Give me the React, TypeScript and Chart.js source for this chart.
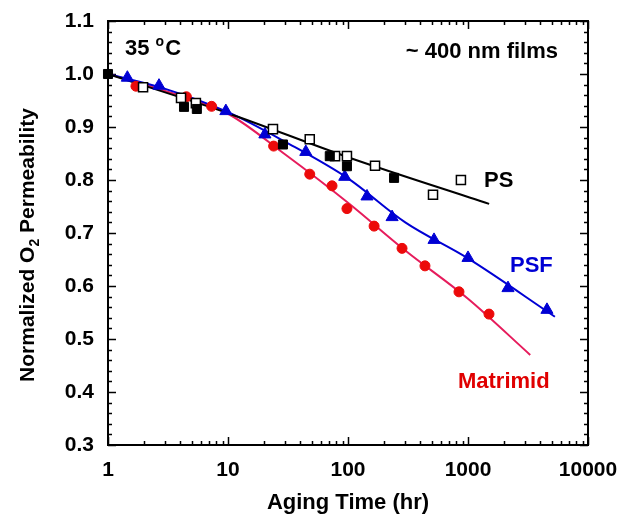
import React, { useEffect, useRef } from 'react';
import { Chart, registerables } from 'chart.js';

Chart.register(...registerables);

// ---- data ----
const xTickValues = [1, 10, 100, 1000, 10000];
const yMin = 0.3;
const yMax = 1.1;

const psOpenX = [1.96, 4.06, 5.4, 23.7, 48, 78, 98, 168, 511, 873];
const psOpenY = [0.975, 0.955, 0.945, 0.896, 0.877, 0.845, 0.845, 0.827, 0.772, 0.8];

const psFilledX = [1, 4.3, 5.5, 28.7, 70.5, 98, 242];
const psFilledY = [1.0, 0.938, 0.934, 0.867, 0.845, 0.826, 0.804];

const psfX = [1.45, 2.66, 9.6, 20.3, 44.5, 94, 144, 233, 521, 1000, 2154, 4550];
const psfY = [0.993, 0.978, 0.93, 0.886, 0.853, 0.806, 0.769, 0.73, 0.687, 0.653, 0.596, 0.555];

const matX = [1.71, 4.5, 7.3, 24, 48, 73.6, 98, 165, 282, 438, 841, 1496];
const matY = [0.977, 0.957, 0.939, 0.864, 0.811, 0.789, 0.746, 0.713, 0.671, 0.638, 0.589, 0.547];

const psFitX = [1, 10, 100, 1500];
const psFitY = [1.0, 0.926, 0.843, 0.755];

const psfFitX = [1, 3, 10, 30, 100, 300, 1000, 5300];
const psfFitY = [1.0, 0.972, 0.928, 0.872, 0.803, 0.72, 0.652, 0.542];

const matFitX = [1, 3, 10, 30, 100, 300, 1000, 3300];
const matFitY = [1.0, 0.968, 0.925, 0.848, 0.757, 0.667, 0.576, 0.47];

const FONT = 'Arial, "Liberation Sans", Helvetica, sans-serif';
const BLUE = '#0000d4';
const RED = '#ec0a0a';
const RED_LINE = '#e61c5c';

// annotation labels anchored in data space
const notes = [
  { text: '~ 400 nm films', x: 5623, y: 1.031, align: 'right', color: '#000' },
  { text: 'PS', x: 1359, y: 0.786, align: 'left', color: '#000' },
  { text: 'PSF', x: 2239, y: 0.626, align: 'left', color: BLUE },
  { text: 'Matrimid', x: 825, y: 0.4075, align: 'left', color: '#e00000' },
];
const tempNote = { x: 1.386, y: 1.036 };

const toPts = (xs: number[], ys: number[]) => xs.map((x, i) => ({ x, y: ys[i] }));

const zeroPadding = (scale: any) => {
  scale.paddingTop = 0;
  scale.paddingBottom = 0;
  scale.paddingLeft = 0;
  scale.paddingRight = 0;
};

export default function App() {
  const ref = useRef<HTMLCanvasElement>(null);

  useEffect(() => {
    const canvas = ref.current;
    if (!canvas) return;

    const framePlugin = {
      id: 'frameTicks',
      beforeDatasetsDraw(chart: any) {
        const { ctx, chartArea: a, scales } = chart;
        const xs = scales.x;
        const ys = scales.y;
        ctx.save();
        ctx.strokeStyle = '#000';
        ctx.lineWidth = 2;
        ctx.strokeRect(a.left, a.top, a.right - a.left, a.bottom - a.top);
        ctx.lineWidth = 1.5;
        ctx.beginPath();
        // y ticks: major every 0.1, minor every 0.02
        for (let i = 0; i <= Math.round((yMax - yMin) / 0.02); i++) {
          const v = yMin + i * 0.02;
          const py = Math.round(ys.getPixelForValue(v)) + 0.5;
          const len = i % 5 === 0 ? 8 : 4;
          ctx.moveTo(a.left, py);
          ctx.lineTo(a.left + len, py);
          ctx.moveTo(a.right, py);
          ctx.lineTo(a.right - len, py);
        }
        // x ticks: decades major, 2..9 minor
        for (let d = 0; d < xTickValues.length; d++) {
          const base = xTickValues[d];
          const kmax = d === xTickValues.length - 1 ? 1 : 9;
          for (let k = 1; k <= kmax; k++) {
            const px = Math.round(xs.getPixelForValue(base * k)) + 0.5;
            const len = k === 1 ? 8 : 4;
            ctx.moveTo(px, a.bottom);
            ctx.lineTo(px, a.bottom - len);
            ctx.moveTo(px, a.top);
            ctx.lineTo(px, a.top + len);
          }
        }
        ctx.stroke();
        ctx.restore();
      },
      afterDraw(chart: any) {
        const { ctx, chartArea: a, scales } = chart;
        const xs = scales.x;
        const ys = scales.y;
        ctx.save();
        ctx.textBaseline = 'alphabetic';
        // notes
        ctx.font = `bold 22px ${FONT}`;
        for (const n of notes) {
          ctx.fillStyle = n.color;
          ctx.textAlign = n.align as CanvasTextAlign;
          ctx.fillText(n.text, xs.getPixelForValue(n.x), ys.getPixelForValue(n.y));
        }
        // 35 °C with superscript o
        ctx.textAlign = 'left';
        ctx.fillStyle = '#000';
        let tx = xs.getPixelForValue(tempNote.x);
        const ty = ys.getPixelForValue(tempNote.y);
        ctx.font = `bold 22px ${FONT}`;
        ctx.fillText('35 ', tx, ty);
        tx += ctx.measureText('35 ').width;
        ctx.font = `bold 14px ${FONT}`;
        ctx.fillText('o', tx, ty - 9);
        tx += ctx.measureText('o').width + 1;
        ctx.font = `bold 22px ${FONT}`;
        ctx.fillText('C', tx, ty);

        // y axis title with subscript
        const big = `bold 21px ${FONT}`;
        const small = `bold 14px ${FONT}`;
        const p1 = 'Normalized O';
        const p2 = '2';
        const p3 = ' Permeability';
        ctx.font = big;
        const w1 = ctx.measureText(p1).width;
        const w3 = ctx.measureText(p3).width;
        ctx.font = small;
        const w2 = ctx.measureText(p2).width;
        const total = w1 + w2 + w3;
        const cy = (a.top + a.bottom) / 2 + 12;
        ctx.translate(34, cy);
        ctx.rotate(-Math.PI / 2);
        let sx = -total / 2;
        ctx.font = big;
        ctx.fillText(p1, sx, 0);
        sx += w1;
        ctx.font = small;
        ctx.fillText(p2, sx, 5);
        sx += w2;
        ctx.font = big;
        ctx.fillText(p3, sx, 0);
        ctx.restore();
      },
    };

    const lineDs = (label: string, xs: number[], ys: number[], color: string) => ({
      label,
      data: toPts(xs, ys),
      showLine: true,
      borderColor: color,
      borderWidth: 2,
      pointRadius: 0,
      cubicInterpolationMode: 'monotone' as const,
      fill: false,
      clip: false as any,
    });

    const chart = new Chart(canvas, {
      type: 'scatter',
      data: {
        datasets: [
          {
            label: 'PS (filled)',
            data: toPts(psFilledX, psFilledY),
            pointStyle: 'rect',
            pointRadius: 6.4,
            backgroundColor: '#000',
            borderColor: '#000',
            borderWidth: 1,
            showLine: false,
            clip: false as any,
          },
          {
            label: 'PS (open)',
            data: toPts(psOpenX, psOpenY),
            pointStyle: 'rect',
            pointRadius: 6.4,
            backgroundColor: '#fff',
            borderColor: '#000',
            borderWidth: 1.5,
            showLine: false,
            clip: false as any,
          },
          {
            label: 'PSF',
            data: toPts(psfX, psfY),
            pointStyle: 'triangle',
            pointRadius: 7,
            backgroundColor: BLUE,
            borderColor: BLUE,
            borderWidth: 1,
            showLine: false,
            clip: false as any,
          },
          {
            label: 'Matrimid',
            data: toPts(matX, matY),
            pointStyle: 'circle',
            pointRadius: 5,
            backgroundColor: RED,
            borderColor: RED,
            borderWidth: 1,
            showLine: false,
            clip: false as any,
          },
          lineDs('PS fit', psFitX, psFitY, '#000'),
          lineDs('PSF fit', psfFitX, psfFitY, BLUE),
          lineDs('Matrimid fit', matFitX, matFitY, RED_LINE),
        ],
      },
      options: {
        responsive: false,
        devicePixelRatio: 1,
        animation: false,
        layout: { padding: { left: 0, top: 21, right: 33, bottom: 0 } },
        plugins: {
          legend: { display: false },
          tooltip: { enabled: false },
        },
        scales: {
          x: {
            type: 'logarithmic',
            min: 1,
            max: 10000,
            grid: { display: false, drawTicks: false },
            border: { display: false },
            afterBuildTicks: (scale: any) => {
              scale.ticks = xTickValues.map((v) => ({ value: v }));
            },
            afterFit: (scale: any) => {
              scale.height = 72;
              zeroPadding(scale);
            },
            ticks: {
              autoSkip: false,
              maxRotation: 0,
              color: '#000',
              padding: 13,
              font: { family: FONT, size: 21, weight: 'bold' },
              callback: (v: any) => String(v),
            },
            title: {
              display: true,
              text: 'Aging Time (hr)',
              color: '#000',
              font: { family: FONT, size: 22, weight: 'bold' },
              padding: { top: 0, bottom: 1 },
            },
          },
          y: {
            type: 'linear',
            min: yMin,
            max: yMax,
            grid: { display: false, drawTicks: false },
            border: { display: false },
            afterFit: (scale: any) => {
              scale.width = 108;
              zeroPadding(scale);
            },
            ticks: {
              stepSize: 0.1,
              color: '#000',
              padding: 14,
              font: { family: FONT, size: 21, weight: 'bold' },
              callback: (v: any) => Number(v).toFixed(1),
            },
          },
        },
      },
      plugins: [framePlugin],
    } as any);

    return () => chart.destroy();
  }, []);

  return (
    <div style={{ position: 'absolute', left: 0, top: 0, width: 621, height: 517, background: '#fff' }}>
      <canvas ref={ref} width={621} height={517} style={{ display: 'block' }} />
    </div>
  );
}
